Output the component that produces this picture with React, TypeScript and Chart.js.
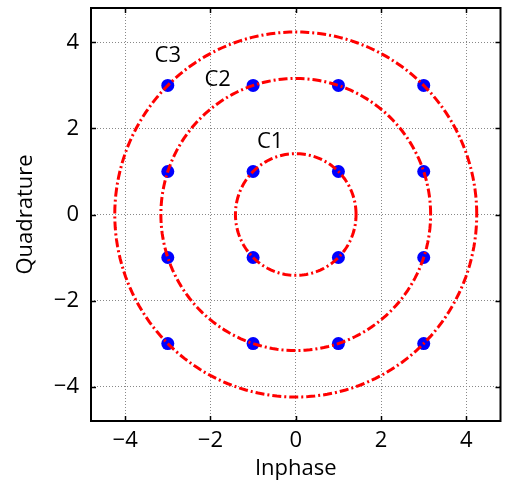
import React, { useEffect, useRef } from "react";
import { Chart, registerables } from "chart.js";

Chart.register(...registerables);

const constellationI = [-3, -1, 1, 3, -3, -1, 1, 3, -3, -1, 1, 3, -3, -1, 1, 3];
const constellationQ = [3, 3, 3, 3, 1, 1, 1, 1, -1, -1, -1, -1, -3, -3, -3, -3];
const circleRadii = [1.414, 3.162, 4.243];
const circleLabels = ["C1", "C2", "C3"];
const labelI = [-0.6, -1.83, -3.0];
const labelQ = [1.68, 3.14, 3.7];
const tickValues = [-4, -2, 0, 2, 4];
const axisMin = -4.8;
const axisMax = 4.8;

const FONT = "'Open Sans', 'DejaVu Sans', sans-serif";
const SEGMENTS = 180;

function circlePoints(r: number) {
  const pts: { x: number; y: number }[] = [];
  for (let i = 0; i <= SEGMENTS; i++) {
    const a = (i / SEGMENTS) * Math.PI * 2;
    pts.push({ x: r * Math.cos(a), y: r * Math.sin(a) });
  }
  return pts;
}

const framePlugin = {
  id: "frameTicks",
  afterDatasetsDraw(chart: any) {
    const { ctx, chartArea, scales } = chart;
    const { left, right, top, bottom } = chartArea;
    ctx.save();
    ctx.fillStyle = "#000";
    ctx.font = `22px ${FONT}`;
    ctx.textAlign = "center";
    ctx.textBaseline = "middle";
    circleLabels.forEach((t, i) => {
      ctx.fillText(t, scales.x.getPixelForValue(labelI[i]), scales.y.getPixelForValue(labelQ[i]));
    });
    ctx.strokeStyle = "#000";
    ctx.lineWidth = 1.5;
    const len = 5;
    scales.x.ticks.forEach((t: any) => {
      const px = Math.round(scales.x.getPixelForValue(t.value)) + 0.5;
      ctx.beginPath();
      ctx.moveTo(px, bottom);
      ctx.lineTo(px, bottom - len);
      ctx.moveTo(px, top);
      ctx.lineTo(px, top + len);
      ctx.stroke();
    });
    scales.y.ticks.forEach((t: any) => {
      const py = Math.round(scales.y.getPixelForValue(t.value)) + 0.5;
      ctx.beginPath();
      ctx.moveTo(left, py);
      ctx.lineTo(left + len, py);
      ctx.moveTo(right, py);
      ctx.lineTo(right - len, py);
      ctx.stroke();
    });
    ctx.lineWidth = 2;
    ctx.strokeRect(left, top, right - left, bottom - top);
    ctx.restore();
  },
};

export default function App() {
  const ref = useRef<HTMLCanvasElement>(null);
  useEffect(() => {
    document.body.style.margin = "0";
    const points = constellationI.map((x, i) => ({ x, y: constellationQ[i] }));
    const circleSets = circleRadii.map((r) => ({
      type: "line" as const,
      data: circlePoints(r),
      borderColor: "#ff0000",
      borderWidth: 3,
      borderDash: [9, 3, 2, 3],
      pointRadius: 0,
      fill: false,
      tension: 0,
      order: 0,
    }));
    const chart = new Chart(ref.current!, {
      type: "scatter",
      data: {
        datasets: [
          ...circleSets,
          {
            type: "scatter" as const,
            data: points,
            backgroundColor: "#0000ff",
            borderColor: "#0000ff",
            pointRadius: 6.5,
            borderWidth: 0,
            order: 1,
          } as any,
        ],
      },
      options: {
        animation: false,
        responsive: false,
        devicePixelRatio: 1,
        layout: { padding: { left: 0, top: 8, right: 5, bottom: 0 } },
        plugins: { legend: { display: false }, tooltip: { enabled: false } },
        scales: {
          x: {
            type: "linear",
            min: axisMin,
            max: axisMax,
            afterFit: (s: any) => {
              s.height = 65;
              s.paddingLeft = 0;
              s.paddingRight = 0;
            },
            afterBuildTicks: (s: any) => {
              s.ticks = tickValues.map((v) => ({ value: v }));
            },
            ticks: {
              color: "#000",
              font: { family: FONT, size: 22 },
              padding: 7,
              maxRotation: 0,
              callback: (v: any) => String(v).replace("-", "\u2212"),
            },
            grid: { color: "#888888", lineWidth: 1, drawTicks: false } as any,
            border: { display: false, dash: [1, 2] } as any,
            title: {
              display: true,
              text: "Inphase",
              color: "#000",
              font: { family: FONT, size: 22 },
              padding: { top: 0, bottom: 4 },
            },
          },
          y: {
            type: "linear",
            min: axisMin,
            max: axisMax,
            afterFit: (s: any) => {
              s.width = 91;
              s.paddingTop = 0;
              s.paddingBottom = 0;
            },
            afterBuildTicks: (s: any) => {
              s.ticks = tickValues.map((v) => ({ value: v }));
            },
            ticks: {
              color: "#000",
              font: { family: FONT, size: 22 },
              padding: 12,
              callback: (v: any) => String(v).replace("-", "\u2212"),
            },
            grid: { color: "#888888", lineWidth: 1, drawTicks: false } as any,
            border: { display: false, dash: [1, 2] } as any,
            title: {
              display: true,
              text: "Quadrature",
              color: "#000",
              font: { family: FONT, size: 22 },
              padding: { top: 13, bottom: 0 },
            },
          },
        },
      } as any,
      plugins: [framePlugin],
    });
    return () => chart.destroy();
  }, []);
  return <canvas ref={ref} width={507} height={486} />;
}
